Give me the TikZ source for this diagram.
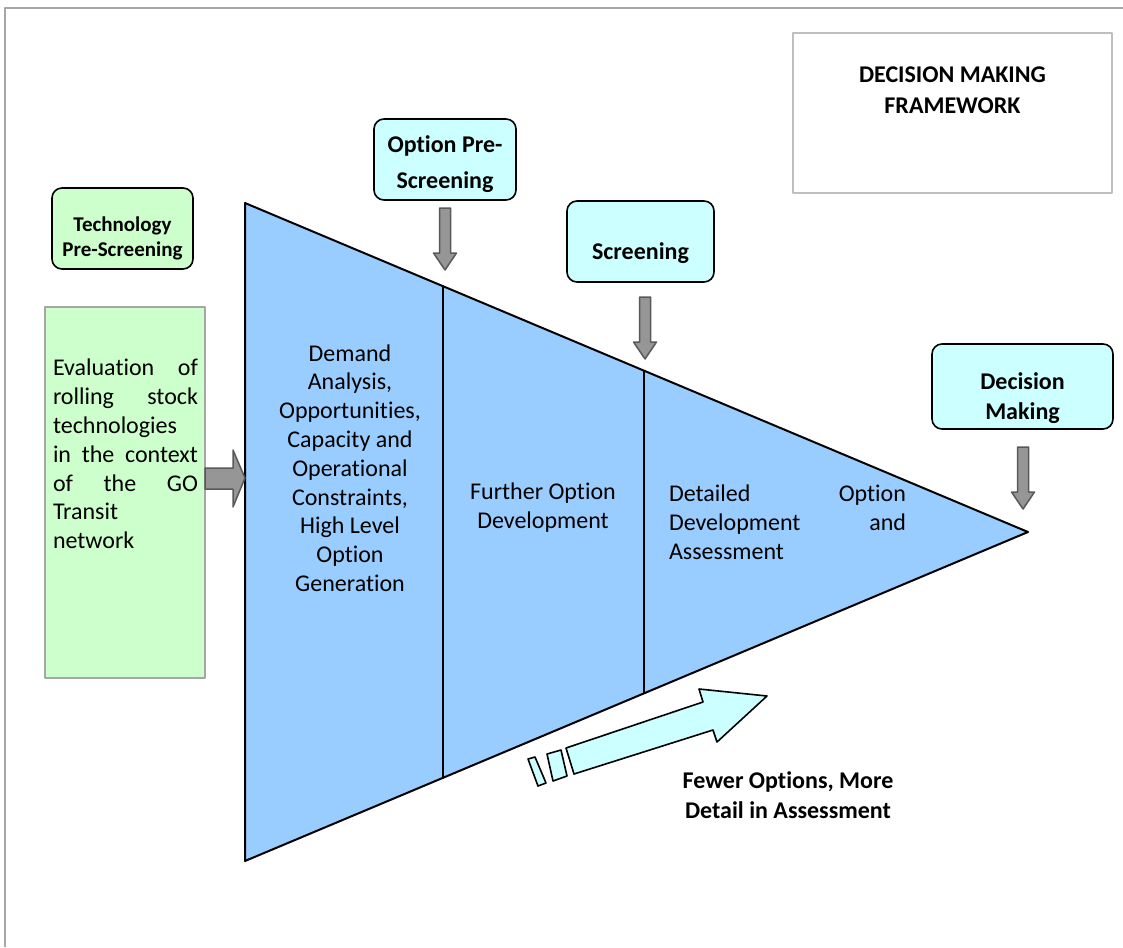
\documentclass[tikz,border=0pt]{standalone}
\usepackage{fontspec}
\setmainfont{Carlito}[Ligatures={NoCommon,NoRare,NoContextual}]
\usepackage{xcolor}
\usepackage{tikz}
\usetikzlibrary{positioning}

\definecolor{stagegreen}{HTML}{CCFFCC}
\definecolor{stagecyan}{HTML}{CCFFFF}
\definecolor{funnelblue}{HTML}{99CCFF}
\definecolor{arrowgray}{HTML}{969696}
\definecolor{arrowedge}{HTML}{595959}
\definecolor{framegray}{HTML}{A6A6A6}
\definecolor{titlegray}{HTML}{BFBFBF}

\tikzset{
  stagebox/.style={draw, line width=0.8pt, rounded corners=5pt, fill=stagecyan, inner sep=0pt},
  boxtext/.style={inner sep=0pt, align=center, font=\fontsize{12}{15}\selectfont\bfseries},
  stagetext/.style={inner sep=0pt, font=\fontsize{12}{14.4}\selectfont},
  grayarrow/.style={fill=arrowgray, draw=arrowedge, line width=0.75pt},
  downarr/.pic={
    \draw[grayarrow] (-5.5,0) -- (5.5,0) -- (5.5,45) -- (11.5,45) -- (0,62)
      -- (-11.5,45) -- (-5.5,45) -- cycle;
  }
}

\begin{document}
\begin{tikzpicture}[x=0.5pt, y=-0.5pt, line join=round]
\useasboundingbox (0,0) rectangle (1123,947);

% page frame, top and left edge
\draw[framegray, line width=1pt] (1123,8) -- (5,8) -- (5,947);

% title box
\node[draw=titlegray, line width=1pt, minimum width=159.5pt, minimum height=80pt] (fwbox) at (952.5,113) {};
\node[boxtext, font=\fontsize{12}{15.5}\selectfont\bfseries, below=17pt of fwbox.north] (fwtitle) {DECISION MAKING\\FRAMEWORK};

% the funnel
\coordinate (ftop) at (245,203);
\coordinate (fbot) at (245,861);
\coordinate (ftip) at (1028,532);
\draw[fill=funnelblue, line width=1pt] (ftop) -- (ftip) -- (fbot) -- cycle;
\draw[line width=0.8pt] (443,286.2) -- (443,777.8);
\draw[line width=0.8pt] (644,370.7) -- (644,693.3);

\node[stagetext, align=center] (demand) at (350,468) {Demand\\Analysis,\\Opportunities,\\Capacity and\\Operational\\Constraints,\\High Level\\Option\\Generation};
\node[stagetext, align=center] (further) at (543,507.5) {Further Option\\Development};
\node[stagetext, text width=118.5pt, align=left] (detailed) at (787.5,522) {Detailed\hfill Option\\Development\hfill and\\Assessment};

% technology side
\node[stagebox, fill=stagegreen, minimum width=70.5pt, minimum height=40.5pt] (tech) at (122.5,228.5) {};
\node[boxtext, font=\fontsize{10.5}{12.5}\selectfont\bfseries] (techtxt) at ([yshift=-5pt]tech.center) {Technology\\Pre-Screening};

\node[draw=framegray, fill=stagegreen, line width=1pt, minimum width=80pt, minimum height=185.5pt, inner sep=0pt] (evalbox) at (125,492.5) {};
\node[stagetext, text width=72.5pt, align=left] (evaltxt) at (125.5,454) {Evaluation\hfill of\\rolling\hfill stock\\technologies\\in\hfill the\hfill context\\of\hfill the\hfill GO\\Transit\\network};

\draw[grayarrow] (205,468) -- (233,468) -- (233,450) -- (245,478) -- (233,507) -- (233,489) -- (205,489) -- cycle;

% stage labels above the funnel
\node[stagebox, minimum width=71pt, minimum height=40.5pt] (prescreen) at (445,159.5) {};
\node[boxtext, font=\fontsize{12}{18}\selectfont\bfseries] (prescreentxt) at ([yshift=-2.5pt]prescreen.center) {Option Pre-\\Screening};
\pic (prearrow) at (445,208) {downarr};

\node[stagebox, minimum width=73.5pt, minimum height=40.5pt] (screen) at (640.5,241.5) {};
\node[boxtext] (screentxt) at ([yshift=-6pt]screen.center) {Screening};
\pic (scrarrow) at (645,297) {downarr};

\node[stagebox, minimum width=90.5pt, minimum height=42.5pt] (decide) at (1022.5,386.5) {};
\node[boxtext] (decidetxt) at ([yshift=-6pt]decide.center) {Decision\\Making};
\pic (decarrow) at (1023,447) {downarr};

% striped arrow under the funnel
\draw[fill=stagecyan, line width=0.8pt] (528,759) -- (535,757) -- (546,783) -- (538,786) -- cycle;
\draw[fill=stagecyan, line width=0.8pt] (547,754) -- (561,750) -- (567,776) -- (553,781) -- cycle;
\draw[fill=stagecyan, line width=0.8pt] (566,748) -- (703,702) -- (699,689) -- (767,696) -- (717,742) -- (713,730) -- (574,774) -- cycle;
\node[boxtext] (fewer) at (788,795) {Fewer Options, More\\Detail in Assessment};

\end{tikzpicture}
\end{document}
